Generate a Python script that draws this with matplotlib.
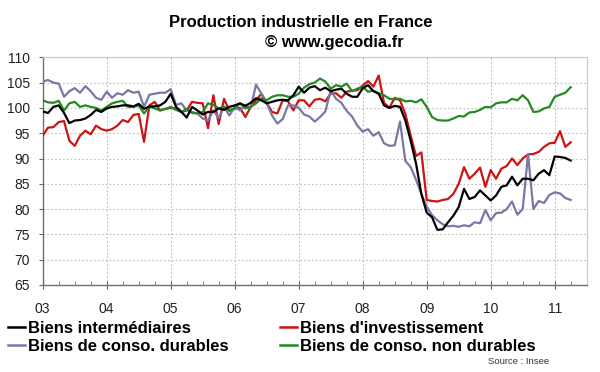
import numpy as np
import matplotlib
matplotlib.use("Agg")
import matplotlib.pyplot as plt
from matplotlib.lines import Line2D

plt.rcParams['font.family'] = ['Liberation Sans', 'DejaVu Sans']

# monthly index values, Jan 2003 -> Apr 2011 (one row per year)
intermediaires = [
    99.3, 99.0, 100.2, 100.5, 99.0, 97.0, 97.5, 97.6, 97.9, 98.6, 99.6, 99.2,
    99.9, 100.2, 100.3, 100.5, 100.5, 100.3, 100.8, 99.8, 100.3, 100.3, 100.5, 101.2,
    102.8, 100.2, 99.2, 98.1, 100.2, 99.5, 98.7, 99.2, 99.2, 99.9, 99.6, 100.2,
    100.5, 100.9, 100.4, 101.0, 101.9, 101.5, 100.9, 101.2, 101.5, 101.6, 101.5, 102.5,
    104.2, 103.0, 104.0, 104.3, 103.5, 104.0, 103.3, 103.6, 103.8, 102.8, 102.2, 102.2,
    103.9, 104.5, 103.3, 102.8, 100.5, 100.0, 100.4, 100.2, 97.5, 93.5, 89.0, 83.0,
    79.3, 78.4, 75.9, 76.0, 77.4, 78.7, 80.4, 84.0, 82.0, 82.4, 83.7, 82.7,
    81.7, 82.7, 84.4, 84.7, 86.4, 84.7, 86.0, 86.0, 85.7, 87.0, 87.7, 86.7,
    90.4, 90.3, 90.1, 89.6,
]
investissement = [
    94.5, 96.1, 96.2, 97.2, 97.4, 93.5, 92.5, 94.5, 95.5, 94.8, 96.5, 95.8,
    95.5, 95.8, 96.5, 97.6, 97.2, 98.6, 98.8, 93.3, 100.5, 101.2, 99.5, 99.8,
    100.0, 99.9, 99.2, 99.5, 101.2, 101.0, 100.9, 96.0, 102.5, 96.8, 101.8, 99.4,
    99.9, 100.0, 98.2, 100.2, 101.5, 102.8, 101.0, 99.2, 98.9, 101.5, 101.3, 99.5,
    101.5, 101.5, 100.3, 101.6, 101.8, 101.3, 102.8, 102.9, 102.0, 103.2, 103.4, 103.5,
    104.4, 105.3, 104.2, 106.4, 101.0, 100.0, 102.0, 101.5, 98.8, 94.5, 90.5, 91.2,
    81.8, 81.6, 81.5, 81.8, 82.0, 83.0, 85.0, 88.3, 86.0, 87.0, 88.2, 84.4,
    87.7, 86.0, 88.0, 88.5, 90.0, 88.7, 90.0, 90.8, 90.9, 91.3, 92.3, 93.0,
    93.1, 95.4, 92.3, 93.2,
]
durables = [
    105.2, 105.5, 105.0, 104.8, 102.2, 103.3, 103.9, 103.0, 104.3, 103.3, 102.0, 101.6,
    103.2, 102.0, 102.9, 102.6, 103.5, 103.0, 103.2, 100.2, 102.6, 102.8, 103.0, 103.0,
    103.7, 100.6, 100.9, 99.5, 99.2, 98.9, 97.9, 97.5, 99.5, 98.0, 100.3, 98.5,
    100.2, 99.5, 100.5, 100.0, 104.6, 102.8, 100.9, 98.5, 96.9, 97.8, 100.5, 100.5,
    100.0, 98.7, 98.3, 97.3, 98.2, 99.3, 103.5, 101.8, 101.0, 99.4, 98.3, 96.5,
    95.3, 95.8, 94.5, 95.2, 93.0, 92.5, 92.6, 97.3, 89.5, 88.3, 85.8, 83.0,
    80.5, 78.8, 77.8, 77.0, 76.6, 76.7, 76.5, 76.8, 76.6, 77.4, 77.2, 79.8,
    77.8, 79.2, 79.3, 80.0, 81.5, 78.9, 80.0, 90.8, 80.0, 81.6, 81.2, 82.8,
    83.3, 83.1, 82.2, 81.8,
]
non_durables = [
    101.5, 101.1, 101.0, 101.4, 99.5, 100.9, 101.2, 100.2, 100.5, 100.2, 100.0, 99.5,
    100.2, 100.9, 101.2, 101.4, 100.2, 100.2, 100.5, 98.9, 100.2, 99.9, 99.5, 99.8,
    100.2, 99.6, 99.2, 99.8, 99.0, 98.9, 99.2, 100.9, 100.6, 99.9, 100.2, 99.5,
    99.9, 100.9, 99.9, 100.2, 100.9, 101.9, 101.5, 102.2, 102.5, 102.5, 102.2, 102.2,
    102.8, 104.0, 104.7, 105.0, 105.8, 105.2, 103.8, 104.5, 104.2, 104.8, 103.3, 103.8,
    104.2, 103.2, 103.4, 102.9, 102.5, 101.8, 101.7, 101.8, 101.3, 101.4, 101.1, 101.7,
    100.2, 98.2, 97.6, 97.5, 97.5, 97.9, 98.4, 98.3, 99.1, 99.2, 99.6, 100.2,
    100.1, 100.9, 101.1, 101.1, 101.8, 101.5, 102.5, 101.5, 99.2, 99.3, 99.9, 100.2,
    102.2, 102.6, 103.0, 104.1,
]

year_labels = ['03', '04', '05', '06', '07', '08', '09', '10', '11']
labels = ['Biens intermédiaires', "Biens d'investissement",
          'Biens de conso. durables', 'Biens de conso. non durables']
colors = ['#000000', '#cc1414', '#7878a6', '#238a23']

months = np.arange(len(intermediaires))

fig = plt.figure(figsize=(6, 3.72), dpi=100)
ax = fig.add_axes([42.7 / 600, 1 - 285 / 372, 544 / 600, 227.7 / 372])

series = [intermediaires, investissement, durables, non_durables]
# draw order: grey, green, red, black on top
for i in [2, 3, 1, 0]:
    ax.plot(months, series[i], color=colors[i], lw=1.6, zorder=3 + i * 0.1 if i else 4)

ax.set_xlim(0, 102)
ax.set_ylim(65, 110)
ax.set_yticks(np.arange(65, 111, 5))
ax.set_xticks(np.arange(len(year_labels)) * 12)
ax.set_xticklabels(year_labels)
ax.set_xticks(np.arange(0, 102, 3), minor=True)

ax.grid(True, which='major', linestyle=(0, (1.5, 2)), color='#bdbdbd', lw=0.8)
ax.tick_params(axis='x', which='major', direction='inout', length=6, pad=9,
               color='#666666', labelsize=10, labelcolor='#222222')
ax.tick_params(axis='x', which='minor', direction='in', length=3, color='#666666')
ax.tick_params(axis='y', direction='out', length=3, pad=6, color='#666666',
               labelsize=10, labelcolor='#222222')

for s in ['left', 'bottom']:
    ax.spines[s].set_color('#707070')
    ax.spines[s].set_linewidth(1.0)
for s in ['top', 'right']:
    ax.spines[s].set_color('#c8c8c8')
    ax.spines[s].set_linewidth(0.8)

fig.text(301 / 600, 1 - 27 / 372, 'Production industrielle en France',
         ha='center', va='baseline', fontsize=12, fontweight='bold')
fig.text(334 / 600, 1 - 47.5 / 372, '© www.gecodia.fr',
         ha='center', va='baseline', fontsize=12, fontweight='bold')

# legend laid out in two rows, two columns
leg_x = [(8, 28), (280, 300), (8, 28), (280, 300)]
leg_y = [333, 333, 351, 351]
for i in range(4):
    x0, xt = leg_x[i]
    yb = leg_y[i]
    fig.add_artist(Line2D([x0 / 600, (x0 + 17) / 600],
                          [1 - (yb - 6) / 372, 1 - (yb - 6) / 372],
                          color=colors[i], lw=1.8, transform=fig.transFigure))
    fig.text(xt / 600, 1 - yb / 372, labels[i], ha='left', va='baseline',
             fontsize=12, fontweight='bold')

fig.text(549 / 600, 1 - 363.5 / 372, 'Source : Insee', ha='right', va='baseline',
         fontsize=6.8, color='#333333')

fig.savefig('out.png', dpi=100)
